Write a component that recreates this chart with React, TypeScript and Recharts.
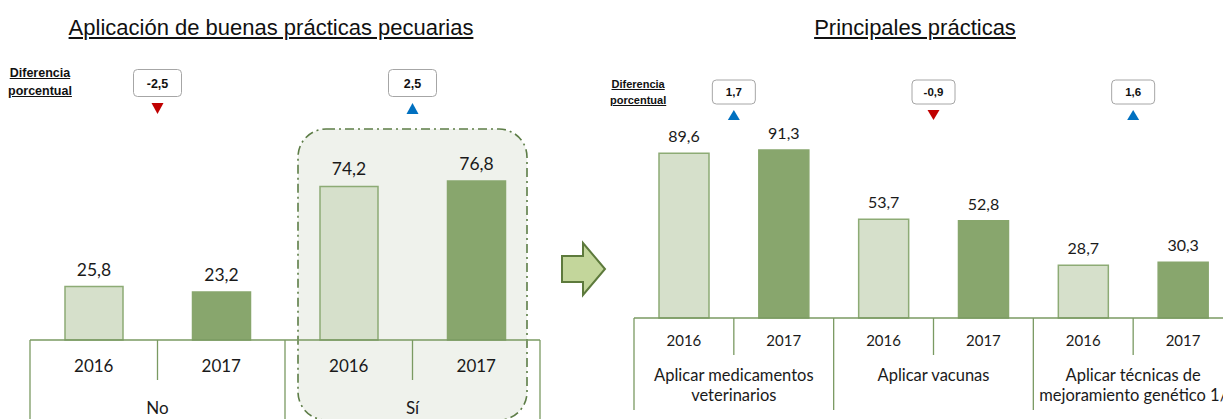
import React from "react";
import { BarChart, Bar, XAxis, YAxis, LabelList, Cell, ReferenceArea } from "recharts";

const years = ["2016", "2017"];

const leftGroups = [["No"], ["Sí"]];
const left2016 = [25.8, 74.2];
const left2017 = [23.2, 76.8];
const leftDiff = [-2.5, 2.5];

const rightGroups = [
  ["Aplicar medicamentos", "veterinarios"],
  ["Aplicar vacunas"],
  ["Aplicar técnicas de", "mejoramiento genético 1/"],
];
const right2016 = [89.6, 53.7, 28.7];
const right2017 = [91.3, 52.8, 30.3];
const rightDiff = [1.7, -0.9, 1.6];

const LIGHT = "#d6e0cb";
const LIGHT_STROKE = "#8dab75";
const DARK = "#88a66d";
const AXIS = "#7a9a62";
const RED = "#c00000";
const BLUE = "#0070c0";
const BODY_FONT = "Lato, 'Open Sans', sans-serif";
const ARIAL = "'Liberation Sans', Arial, sans-serif";

type Row = { key: string; group: string[]; year: string; value: number; gi: number; yi: number };

const buildRows = (groups: string[][], v2016: number[], v2017: number[]): Row[] => {
  const rows: Row[] = [];
  groups.forEach((g, gi) => {
    [v2016[gi], v2017[gi]].forEach((value, yi) => {
      rows.push({ key: `${g.join(" ")}-${years[yi]}`, group: g, year: years[yi], value, gi, yi });
    });
  });
  return rows;
};

const leftRows = buildRows(leftGroups, left2016, left2017);
const rightRows = buildRows(rightGroups, right2016, right2017);

const fmt = (v: any) => Number(v).toFixed(1).replace(".", ",");

interface TickOpts {
  rows: Row[];
  diffs: number[];
  bw: number;
  yearDy: number;
  yearSize: number;
  groupDy: number[];
  groupSize: number;
  longLen: number;
  shortLen: number;
  box: { cy: number; w: number; h: number; size: number };
  tri: { top: number; bottom: number; half: number };
}

const makeTick = (o: TickOpts) => (props: any) => {
  const { x, y, index } = props;
  const row = o.rows[index];
  if (!row) return <g />;
  const left = x - o.bw / 2;
  const isLast = index === o.rows.length - 1;
  const gx = x + o.bw / 2;
  const diff = o.diffs[row.gi];
  const up = diff >= 0;
  const { box, tri } = o;
  return (
    <g>
      <line x1={left} x2={left} y1={y} y2={y + (row.yi === 0 ? o.longLen : o.shortLen)} stroke={AXIS} strokeWidth={1.3} />
      {isLast && <line x1={x + o.bw / 2} x2={x + o.bw / 2} y1={y} y2={y + o.longLen} stroke={AXIS} strokeWidth={1.3} />}
      <text x={x} y={y + o.yearDy} textAnchor="middle" fontFamily={BODY_FONT} fontSize={o.yearSize} fill="#1a1a1a">
        {row.year}
      </text>
      {row.yi === 0 && (
        <g>
          {row.group.map((line, i) => (
            <text key={i} x={gx} y={y + o.groupDy[i]} textAnchor="middle" fontFamily={BODY_FONT} fontSize={o.groupSize} fill="#1a1a1a">
              {line}
            </text>
          ))}
          <rect x={gx - box.w / 2} y={box.cy - box.h / 2} width={box.w} height={box.h} rx={4} fill="#fff" stroke="#a6a6a6" strokeWidth={1} />
          <text x={gx} y={box.cy + box.size * 0.36} textAnchor="middle" fontFamily={ARIAL} fontWeight="bold" fontSize={box.size} fill="#111">
            {fmt(diff)}
          </text>
          <polygon
            points={
              up
                ? `${gx - tri.half},${tri.bottom} ${gx + tri.half},${tri.bottom} ${gx},${tri.top}`
                : `${gx - tri.half},${tri.top} ${gx + tri.half},${tri.top} ${gx},${tri.bottom}`
            }
            fill={up ? BLUE : RED}
          />
        </g>
      )}
    </g>
  );
};

const LEFT_W = 560;
const LEFT_MARGIN = { top: 133, right: 20, bottom: 0, left: 30 };
const LEFT_BW = (LEFT_W - LEFT_MARGIN.left - LEFT_MARGIN.right) / leftRows.length;

const RIGHT_W = 700;
const RIGHT_MARGIN = { top: 134, right: 67, bottom: 0, left: 34 };
const RIGHT_BW = (RIGHT_W - RIGHT_MARGIN.left - RIGHT_MARGIN.right) / rightRows.length;

const Highlight = (p: any) => (
  <rect
    x={p.x + 13}
    y={p.y - 4}
    width={2 * LEFT_BW - 26}
    height={p.height + 84}
    rx={28}
    fill="#eff2ec"
    stroke="#5d7d47"
    strokeWidth={1.6}
    strokeDasharray="9 4 2 4"
  />
);

const LeftChart = () => (
  <BarChart width={LEFT_W} height={419} data={leftRows} margin={LEFT_MARGIN}>
    <ReferenceArea x1={leftRows[2].key} x2={leftRows[3].key} ifOverflow="visible" shape={Highlight} />
    <YAxis hide domain={[0, 100]} />
    <XAxis
      dataKey="key"
      height={79}
      interval={0}
      tickSize={0}
      tickMargin={0}
      tickLine={false}
      axisLine={{ stroke: AXIS, strokeWidth: 1.5 }}
      tick={makeTick({
        rows: leftRows,
        diffs: leftDiff,
        bw: LEFT_BW,
        yearDy: 32,
        yearSize: 17,
        groupDy: [74],
        groupSize: 17,
        longLen: 79,
        shortLen: 40,
        box: { cy: 83, w: 48, h: 27, size: 12.5 },
        tri: { top: 103, bottom: 114, half: 6 },
      })}
    />
    <Bar dataKey="value" barSize={58} isAnimationActive={false}>
      {leftRows.map((r) => (
        <Cell key={r.key} fill={r.yi === 0 ? LIGHT : DARK} stroke={r.yi === 0 ? LIGHT_STROKE : DARK} strokeWidth={1.5} />
      ))}
      <LabelList dataKey="value" position="top" offset={11} formatter={fmt} fontFamily={BODY_FONT} fontSize={17.5} fill="#1a1a1a" />
    </Bar>
  </BarChart>
);

const RightChart = () => (
  <BarChart width={RIGHT_W} height={419} data={rightRows} margin={RIGHT_MARGIN}>
    <YAxis hide domain={[0, 100]} />
    <XAxis
      dataKey="key"
      height={101}
      interval={0}
      tickSize={0}
      tickMargin={0}
      tickLine={false}
      axisLine={{ stroke: AXIS, strokeWidth: 1.5 }}
      tick={makeTick({
        rows: rightRows,
        diffs: rightDiff,
        bw: RIGHT_BW,
        yearDy: 28,
        yearSize: 15,
        groupDy: [63, 83],
        groupSize: 16.5,
        longLen: 92,
        shortLen: 37,
        box: { cy: 92, w: 43, h: 24, size: 11.5 },
        tri: { top: 110, bottom: 120, half: 6 },
      })}
    />
    <Bar dataKey="value" barSize={50} isAnimationActive={false}>
      {rightRows.map((r) => (
        <Cell key={r.key} fill={r.yi === 0 ? LIGHT : DARK} stroke={r.yi === 0 ? LIGHT_STROKE : DARK} strokeWidth={1.5} />
      ))}
      <LabelList dataKey="value" position="top" offset={11} formatter={fmt} fontFamily={BODY_FONT} fontSize={16} fill="#1a1a1a" />
    </Bar>
  </BarChart>
);

const titleStyle: React.CSSProperties = {
  position: "absolute",
  top: 15,
  fontFamily: ARIAL,
  fontSize: 22,
  lineHeight: "25px",
  textAlign: "center",
  textDecoration: "underline",
  color: "#111",
  whiteSpace: "nowrap",
};

const diffLabel = (left: number, top: number, size: number, lh: number): React.CSSProperties => ({
  position: "absolute",
  left,
  top,
  fontFamily: ARIAL,
  fontWeight: "bold",
  fontSize: size,
  lineHeight: `${lh}px`,
  textDecoration: "underline",
  textAlign: "center",
  color: "#111",
});

export default function App() {
  return (
    <div style={{ position: "absolute", left: 0, top: 0, width: 1223, height: 419, overflow: "hidden", background: "#fff" }}>
      <div style={{ position: "absolute", left: 0, top: 0 }}>
        <LeftChart />
      </div>
      <div style={{ position: "absolute", left: 600, top: 0 }}>
        <RightChart />
      </div>
      <div style={{ ...titleStyle, left: 0, width: 542 }}>Aplicación de buenas prácticas pecuarias</div>
      <div style={{ ...titleStyle, left: 700, width: 430 }}>Principales prácticas</div>
      <div style={diffLabel(8, 64, 12.5, 18)}>
        Diferencia
        <br />
        porcentual
      </div>
      <div style={diffLabel(610, 76, 11, 16)}>
        Diferencia
        <br />
        porcentual
      </div>
      <svg style={{ position: "absolute", left: 555, top: 235 }} width={60} height={70}>
        <polygon points="7,21 28,21 28,8 50,34 28,60 28,47 7,47" fill="#c3d69b" stroke="#5d7a3c" strokeWidth={2} />
      </svg>
    </div>
  );
}
